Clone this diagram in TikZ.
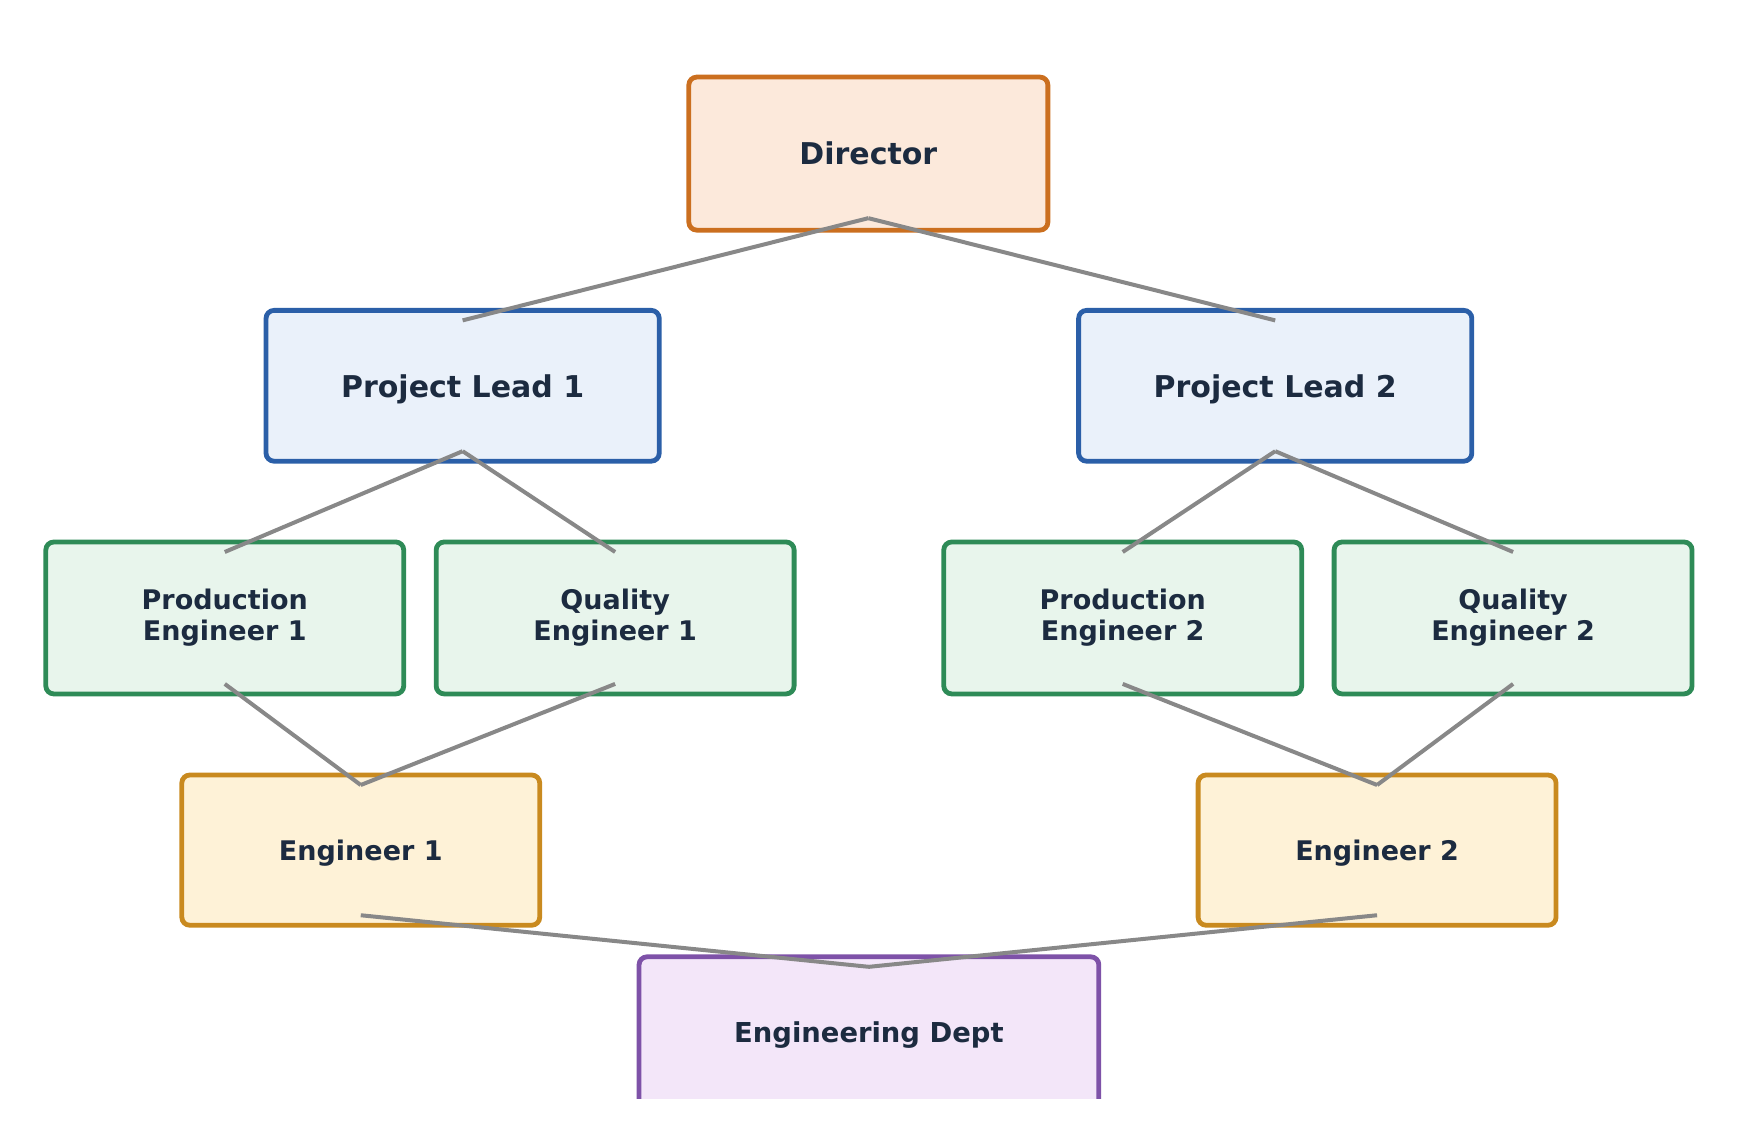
\documentclass[tikz,border=0pt]{standalone}
\usepackage{fontspec}
\setmainfont{DejaVu Sans}
\usetikzlibrary{calc}
\definecolor{ocInk}{HTML}{1C2B40}
\definecolor{ocLink}{HTML}{888888}
\definecolor{ocOrange}{HTML}{CB6F1F}
\definecolor{ocOrangeFill}{HTML}{FCE9DB}
\definecolor{ocBlue}{HTML}{2B5FA8}
\definecolor{ocBlueFill}{HTML}{EAF1FA}
\definecolor{ocGreen}{HTML}{2E8B57}
\definecolor{ocGreenFill}{HTML}{E8F5EC}
\definecolor{ocGold}{HTML}{C98A1F}
\definecolor{ocGoldFill}{HTML}{FEF2D7}
\definecolor{ocPurple}{HTML}{7E52A8}
\definecolor{ocPurpleFill}{HTML}{F3E6F9}
\tikzset{
  baseBox/.style={rectangle, rounded corners=4pt, line width=2.4pt, align=center,
    outer sep=0pt, inner sep=2pt, text=ocInk},
  strutText/.style={execute at begin node={\rule{0pt}{0.97em}}},
  headBox/.style={baseBox, draw=ocOrange, fill=ocOrangeFill, minimum width=6.31cm,
    minimum height=2.69cm, font=\fontsize{15}{18}\selectfont\bfseries},
  leadBox/.style={baseBox, strutText, draw=ocBlue, fill=ocBlueFill, minimum width=6.91cm,
    minimum height=2.65cm, font=\fontsize{15}{18}\selectfont\bfseries},
  roleBox/.style={baseBox, draw=ocGreen, fill=ocGreenFill, minimum width=6.29cm,
    minimum height=2.67cm, font=\fontsize{13.5}{15.5}\selectfont\bfseries},
  engBox/.style={baseBox, strutText, draw=ocGold, fill=ocGoldFill, minimum width=6.29cm,
    minimum height=2.64cm, font=\fontsize{13.5}{15.5}\selectfont\bfseries},
  deptBox/.style={baseBox, strutText, draw=ocPurple, fill=ocPurpleFill, minimum width=8.08cm,
    minimum height=2.65cm, font=\fontsize{13.7}{16}\selectfont\bfseries},
  link/.style={line width=2pt, color=ocLink},
}

\begin{document}
\begin{tikzpicture}[x=1cm,y=1cm]
  \useasboundingbox (0,0) rectangle (30.525,19.70);

  \node[headBox] (director) at (15.26,17.00) {Director};

  \node[leadBox] (lead1) at (8.13,12.92) {Project Lead 1};
  \node[leadBox] (lead2) at (22.41,12.92) {Project Lead 2};

  \node[roleBox] (prod1) at (3.95,8.84) {Production\\Engineer 1};
  \node[roleBox] (qual1) at (10.81,8.84) {Quality\\Engineer 1};
  \node[roleBox] (prod2) at (19.73,8.84) {Production\\Engineer 2};
  \node[roleBox] (qual2) at (26.59,8.84) {Quality\\Engineer 2};

  \node[engBox] (eng1) at (6.34,4.76) {Engineer 1};
  \node[engBox] (eng2) at (24.20,4.76) {Engineer 2};

  \begin{scope}
    \clip (0,0.39) rectangle (30.525,19.70);
    \node[deptBox] (dept) at (15.27,1.56) {Engineering Dept};
  \end{scope}

  \draw[link] ([yshift=6pt]director.south) -- ([yshift=-5pt]lead1.north);
  \draw[link] ([yshift=6pt]director.south) -- ([yshift=-5pt]lead2.north);

  \draw[link] ([yshift=5pt]lead1.south) -- ([yshift=-5pt]prod1.north);
  \draw[link] ([yshift=5pt]lead1.south) -- ([yshift=-5pt]qual1.north);
  \draw[link] ([yshift=5pt]lead2.south) -- ([yshift=-5pt]prod2.north);
  \draw[link] ([yshift=5pt]lead2.south) -- ([yshift=-5pt]qual2.north);

  \draw[link] ([yshift=5pt]prod1.south) -- ([yshift=-5pt]eng1.north);
  \draw[link] ([yshift=5pt]qual1.south) -- ([yshift=-5pt]eng1.north);
  \draw[link] ([yshift=5pt]prod2.south) -- ([yshift=-5pt]eng2.north);
  \draw[link] ([yshift=5pt]qual2.south) -- ([yshift=-5pt]eng2.north);

  \draw[link] ([yshift=5pt]eng1.south) -- ([yshift=-5pt]dept.north);
  \draw[link] ([yshift=5pt]eng2.south) -- ([yshift=-5pt]dept.north);
\end{tikzpicture}
\end{document}
